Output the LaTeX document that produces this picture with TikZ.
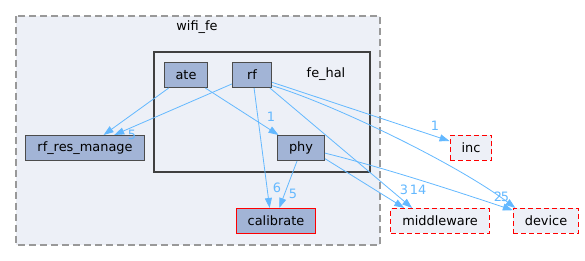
\documentclass[tikz,border=0pt]{standalone}
\usepackage{fontspec}
\setmainfont{DejaVu Sans}
\usetikzlibrary{arrows.meta}
\definecolor{dirfill}{HTML}{A2B4D6}
\definecolor{clfill}{HTML}{EDF0F7}
\definecolor{deplink}{HTML}{63B8FF}
\definecolor{clborder}{HTML}{999999}

\begin{document}
\begin{tikzpicture}[x=1pt, y=-1pt,
    dir/.style = {draw=black!70, line width=1pt, fill=dirfill, minimum width=39pt,
                  minimum height=25pt, inner xsep=11.5pt, font=\fontsize{12.9}{15}\selectfont},
    ext/.style = {dir, draw=red, fill=clfill, dash pattern=on 5pt off 3pt},
    dep/.style = {-{Triangle[length=10pt, width=7pt]}, deplink, line width=0.8pt},
    cnt/.style = {font=\fontsize{12.9}{15}\selectfont, text=deplink, inner sep=0pt}
  ]
  \useasboundingbox (0,0) rectangle (585,261);

  % clusters
  \draw[clborder, fill=clfill, line width=1.3pt, dash pattern=on 7pt off 4pt] (16,16) rectangle (380,245);
  \node[font=\fontsize{12.9}{15}\selectfont] (wififelbl) at (197,27) {wifi\_fe};
  \draw[black!75, line width=2.2pt] (154,52) rectangle (370,172);
  \node[font=\fontsize{12.9}{15}\selectfont] (fehallbl) at (326,74) {fe\_hal};

  % directories
  \node[dir] (ate) at (186,75) {ate};
  \node[dir] (rf) at (252,75) {rf};
  \node[dir] (phy) at (301,148) {phy};
  \node[dir] (rfres) at (85,148) {rf\_res\_manage};
  \node[dir, draw=red] (calibrate) at (276,221) {calibrate};
  \node[ext] (inc) at (471,148) {inc};
  \node[ext] (middleware) at (440,221) {middleware};
  \node[ext] (device) at (546,221) {device};

  % dependencies
  \draw[dep] (ate.-143) -- (rfres.35);
  \draw[dep] (ate.-34) -- (phy.150);
  \draw[dep] (rf.204) -- (rfres.24);
  \draw[dep] (rf.-81) -- (calibrate.116);
  \draw[dep] (phy.-107) -- (calibrate.76);
  \draw[dep] (rf.-20) -- (inc.162);
  \draw[dep] (rf.-36) -- (middleware.155);
  \draw[dep] (rf.-28) .. controls +(60,18) and +(-60,-45) .. (device.157);
  \draw[dep] (phy.-24) -- (middleware.160);
  \draw[dep] (phy.-12) .. controls +(60,15) and +(-60,-20) .. (device.162);

  % counts
  \node[cnt] at (271,117) {1};
  \node[cnt] at (132,135) {5};
  \node[cnt] at (277,188) {6};
  \node[cnt] at (293,194) {5};
  \node[cnt] at (435,126) {1};
  \node[cnt] at (404,190) {3};
  \node[cnt] at (418,190) {14};
  \node[cnt] at (498,197) {2};
  \node[cnt] at (505,197) {5};
\end{tikzpicture}
\end{document}
